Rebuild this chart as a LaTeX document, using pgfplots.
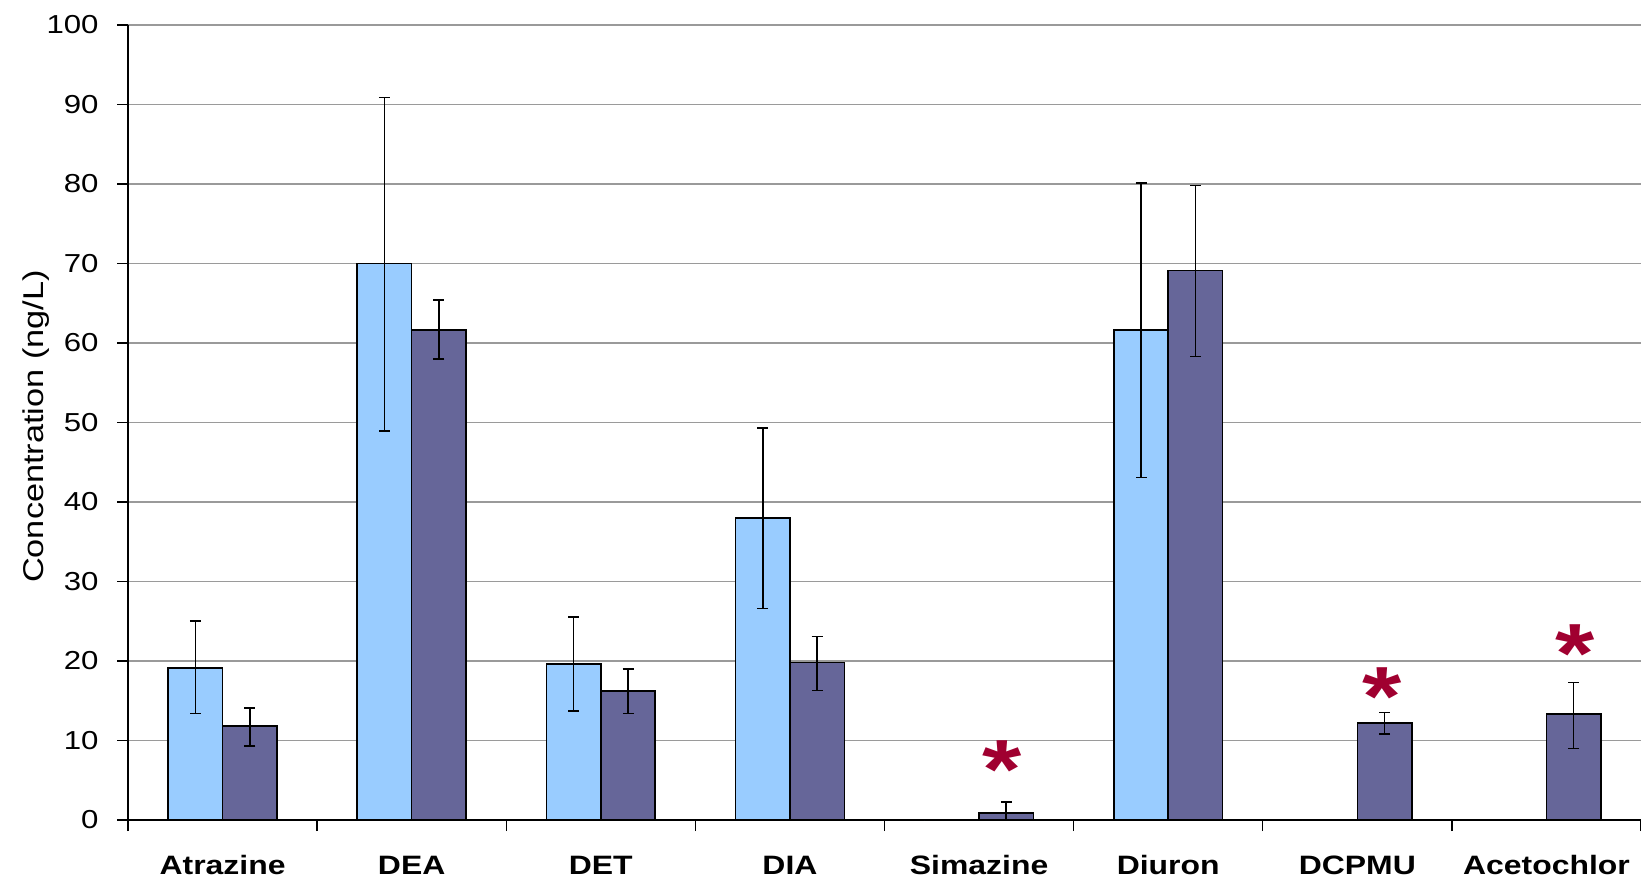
\documentclass[border=0pt]{standalone}
\usepackage{fontspec}
\setmainfont{Liberation Sans}[FakeStretch=1.2]
\usepackage{pgfplots}
\usepackage{pgfplotstable}
\pgfplotsset{compat=1.18}
\definecolor{lightbar}{HTML}{99CCFF}
\definecolor{darkbar}{HTML}{666699}
\definecolor{starred}{HTML}{A00030}
\definecolor{gridgray}{HTML}{9A9A9A}

% light bars sit left of each category centre, dark bars right of it
\pgfplotstableread{
x y ep em
-0.1438 19.1 5.9 5.7
0.8562 70.0 20.9 21.1
1.8562 19.6 5.9 5.9
2.8562 38.0 11.3 11.4
3.8562 0 0 0
4.8562 61.6 18.5 18.5
5.8562 0 0 0
6.8562 0 0 0
}\lightdata

\pgfplotstableread{
x y ep em
0.1438 11.8 2.3 2.5
1.1438 61.6 3.8 3.6
2.1438 16.2 2.8 2.8
3.1438 19.8 3.3 3.5
4.1438 0.9 1.4 0.9
5.1438 69.1 10.7 10.8
6.1438 12.2 1.3 1.4
7.1438 13.3 4.0 4.3
}\darkdata

\begin{document}
\begin{tikzpicture}
\begin{axis}[
  at={(64pt,30pt)}, anchor=south west,
  scale only axis, width=756.5pt, height=397.5pt,
  xmin=-0.5, xmax=7.5, ymin=0, ymax=100,
  ytick={0,10,...,100},
  ymajorgrids, grid style={gridgray, line width=0.8pt},
  axis x line*=bottom, axis y line*=left,
  axis line style={-, line width=0.8pt, black},
  tick align=outside,
  tick style={black, line width=0.7pt},
  major tick length=5.5pt, minor tick length=5.5pt,
  xtick={0,...,7},
  xticklabels={Atrazine,DEA,DET,DIA,Simazine,Diuron,DCPMU,Acetochlor},
  major x tick style={draw=none},
  minor xtick={-0.5,0.5,...,7.5},
  /pgf/number format/assume math mode=true,
  x tick label style={font=\fontsize{13.3}{16}\selectfont\bfseries, anchor=base, inner sep=0pt, yshift=-21.75pt},
  y tick label style={font=\fontsize{13}{15}\selectfont, anchor=east, inner sep=0pt, xshift=-9pt},
  ylabel={Concentration (ng/L)},
  y label style={at={(axis description cs:-0.0607,0.495)}, anchor=center, font=\fontsize{14.3}{17}\selectfont},
  error bars/y dir=both, error bars/y explicit,
  error bars/error mark options={rotate=90, mark size=2.75pt, line width=0.8pt, black},
  error bars/error bar style={line width=0.8pt, black},
]
\addplot[ybar, bar width=27.2pt, bar shift=0pt, fill=lightbar, draw=black, line width=0.8pt]
  table[x=x, y=y, y error plus=ep, y error minus=em] {\lightdata};
\addplot[ybar, bar width=27.2pt, bar shift=0pt, fill=darkbar, draw=black, line width=0.8pt]
  table[x=x, y=y, y error plus=ep, y error minus=em] {\darkdata};
\addplot[draw=none, mark=none, error bars/y dir=none,
  nodes near coords={*},
  every node near coord/.append style={anchor=center, inner sep=0pt, font=\fontsize{42}{42}\selectfont\bfseries, text=starred, yshift=-7.5pt}]
  coordinates {(4.12,8.2) (6.13,17.4) (7.15,22.8)};
\end{axis}
\pgfresetboundingbox
\useasboundingbox (0,0) rectangle (820.5pt,440pt);
\end{tikzpicture}
\end{document}
